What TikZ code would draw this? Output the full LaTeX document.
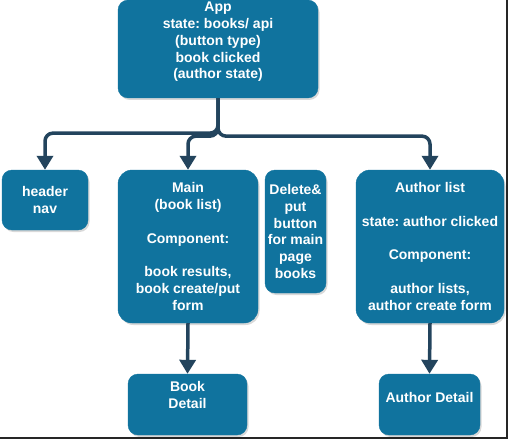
\documentclass[tikz,border=0pt]{standalone}
\usepackage{fontspec}
\setmainfont{Liberation Sans}
\frenchspacing
\usetikzlibrary{arrows.meta,shadows}
\definecolor{dioblue}{HTML}{10739E}
\definecolor{dioink}{HTML}{23445D}
\tikzset{
  bx/.style={rounded corners=10pt, align=center, inner sep=2pt, fill=dioblue, draw=dioblue,
    text=white, font=\fontsize{14}{16.8}\selectfont\bfseries,
    drop shadow={shadow xshift=1.5pt, shadow yshift=-2pt, opacity=0.3}},
  arr/.style={-{Triangle[width=16pt,length=14pt]}, line width=3.5pt, color=dioink, rounded corners=8pt},
  edge/.style={line width=2pt, color=black!85},
}
\begin{document}
\begin{tikzpicture}[x=1pt, y=-1pt]
  \useasboundingbox (0,0) rectangle (508,440);
  \node[bx, minimum width=200pt, minimum height=90pt, text depth=17pt] (app) at (218,49)
    {App\\state: books/ api\\(button type)\\book clicked\\(author state)};
  \node[bx, minimum width=86pt, minimum height=60pt] (header) at (45,200) {header\\nav};
  \node[bx, minimum width=140pt, minimum height=153pt, rounded corners=14pt] (main) at (188,246.5)
    {Main\\(book list)\\[16.8pt]Component:\\[16.8pt]book results,\\book create/put\\form};
  \node[bx, minimum width=61pt, minimum height=123pt] (del) at (295.5,231.5)
    {Delete\&\\put\\button\\for main\\page\\books};
  \node[bx, minimum width=148pt, minimum height=153pt, rounded corners=14pt] (author) at (430,246.5)
    {Author list\\[16.8pt]state: author clicked\\[16.8pt]Component:\\[16.8pt]author lists,\\author create form};
  \node[bx, minimum width=119pt, minimum height=61pt, text depth=19pt] (book) at (187.5,404.5) {Book\\Detail};
  \node[bx, minimum width=101pt, minimum height=61pt, text depth=15pt] (adetail) at (429.5,404.5) {Author Detail};
  % tree from App
  \draw[arr] (app.south) -- ++(0,35) -| (header.north);
  \draw[arr] (app.south) -- ++(0,38) -| (main.north);
  \draw[arr] (app.south) -- ++(0,38) -| (author.north);
  \draw[arr] (main.south) -- (book.north);
  \draw[arr] (author.south) -- (adetail.north);
  % screenshot edge
  \draw[edge] (0,438) -| (507,0);
\end{tikzpicture}
\end{document}
